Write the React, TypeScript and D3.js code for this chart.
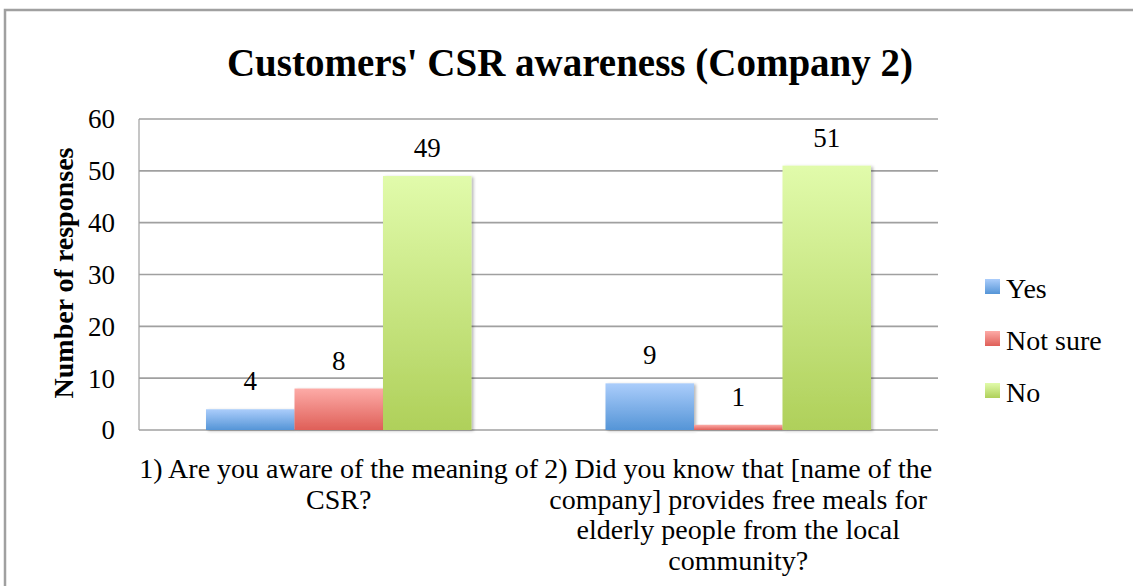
import React from "react";
import * as d3 from "d3";

const categories = ["q1", "q2"];
const categoryLines = [
  ["1) Are you aware of the meaning of", "CSR?"],
  ["2) Did you know that [name of the", "company] provides free meals for", "elderly people from the local", "community?"],
];
const seriesNames = ["Yes", "Not sure", "No"];
const yesValues = [4, 9];
const notSureValues = [8, 1];
const noValues = [49, 51];
const yTicks = [0, 10, 20, 30, 40, 50, 60];

const seriesValues = [yesValues, notSureValues, noValues];
const gradients = [
  { id: "gBlue", top: "#abcdfb", bottom: "#5595d7" },
  { id: "gRed", top: "#fdaba7", bottom: "#df5f58" },
  { id: "gGreen", top: "#e1fbab", bottom: "#afd05a" },
];

const W = 1133;
const H = 586;
const FONT = "'Liberation Serif', 'Times New Roman', serif";

export default function App() {
  const x0 = d3.scaleBand<string>().domain(categories).range([139, 938]).paddingInner(0).paddingOuter(0);
  const x1 = d3
    .scaleBand<string>()
    .domain(seriesNames)
    .range([0, x0.bandwidth()])
    .paddingInner(0)
    .paddingOuter(0.757);
  const y = d3.scaleLinear().domain([0, 60]).range([430, 119]);

  return (
    <svg width={W} height={H} style={{ position: "absolute", left: 0, top: 0, background: "#fff" }} fontFamily={FONT}>
      <defs>
        {gradients.map((g) => (
          <linearGradient key={g.id} id={g.id} x1="0" y1="0" x2="0" y2="1">
            <stop offset="0%" stopColor={g.top} />
            <stop offset="100%" stopColor={g.bottom} />
          </linearGradient>
        ))}
        <filter id="shadow" x="-10%" y="-10%" width="130%" height="130%">
          <feDropShadow dx="2" dy="1" stdDeviation="1.5" floodColor="#000" floodOpacity="0.28" />
        </filter>
      </defs>
      <rect x={5} y={10} width={1300} height={800} fill="#fff" stroke="#a0a0a0" strokeWidth={2.5} />

      <text x={570} y={76} textAnchor="middle" fontSize={39} fontWeight="bold" fill="#000">
        Customers' CSR awareness (Company 2)
      </text>

      {yTicks.map((t) => (
        <g key={t}>
          <line x1={139} x2={938} y1={y(t)} y2={y(t)} stroke="#a0a0a0" strokeWidth={1.6} />
          <text x={115} y={y(t)} dy="0.35em" textAnchor="end" fontSize={27} fill="#000">
            {t}
          </text>
        </g>
      ))}
      <line x1={139} x2={139} y1={y(60)} y2={y(0)} stroke="#a0a0a0" strokeWidth={1.2} />

      <text
        transform={`translate(73,273) rotate(-90)`}
        textAnchor="middle"
        fontSize={28}
        fontWeight="bold"
        fill="#000"
      >
        Number of responses
      </text>

      {categories.map((c, ci) => (
        <g key={c} transform={`translate(${x0(c)},0)`}>
          {seriesNames.map((s, si) => {
            const v = seriesValues[si][ci];
            const bx = x1(s)!;
            const bw = x1.bandwidth();
            return (
              <g key={s}>
                <rect
                  x={bx}
                  y={y(v)}
                  width={bw}
                  height={y(0) - y(v)}
                  fill={`url(#${gradients[si].id})`}
                  filter="url(#shadow)"
                />
                <text x={bx + bw / 2} y={y(v) - 19} textAnchor="middle" fontSize={27} fill="#000">
                  {v}
                </text>
              </g>
            );
          })}
          {categoryLines[ci].map((line, li) => (
            <text
              key={li}
              x={x0.bandwidth() / 2}
              y={478 + li * 30.5}
              textAnchor="middle"
              fontSize={28}
              fill="#000"
            >
              {line}
            </text>
          ))}
        </g>
      ))}

      {seriesNames.map((s, si) => (
        <g key={s} transform={`translate(985,${279 + si * 52})`}>
          <rect x={0} y={0} width={15} height={15} fill={`url(#${gradients[si].id})`} />
          <text x={21} y={19} fontSize={28} fill="#000">
            {s}
          </text>
        </g>
      ))}
    </svg>
  );
}
